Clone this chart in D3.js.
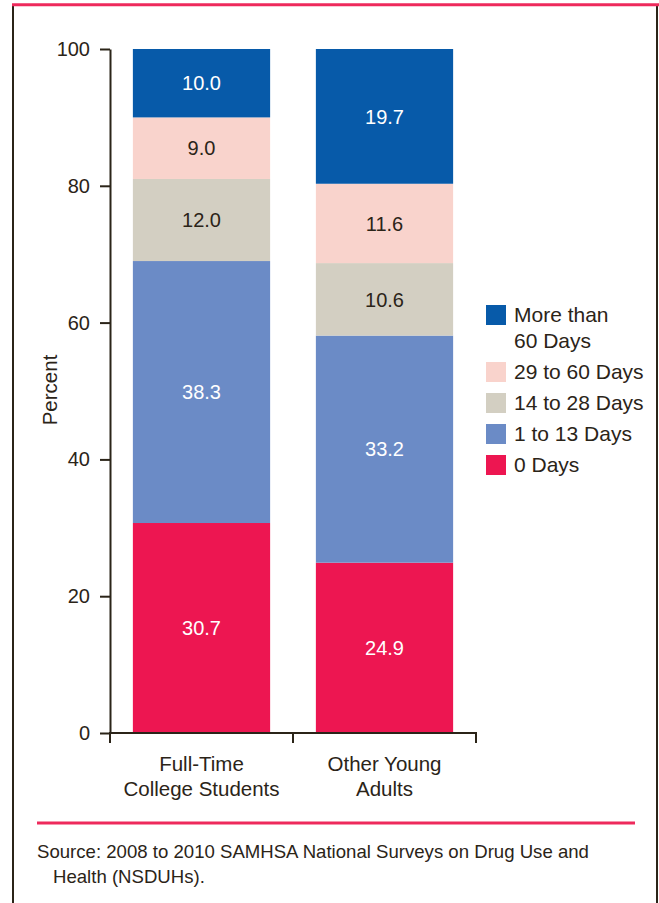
<!DOCTYPE html>
<html><head><meta charset="utf-8">
<script src="https://cdn.jsdelivr.net/npm/d3@7"></script>
<style>
html,body{margin:0;padding:0;background:#fff;}
svg{display:block;font-family:"Liberation Sans",Arial,Helvetica,sans-serif;}
</style></head>
<body>
<script>
const categories = [["Full-Time","College Students"],["Other Young","Adults"]];
const seriesNames = ["0 Days","1 to 13 Days","14 to 28 Days","29 to 60 Days","More than 60 Days"];
const seriesColors = ["#ed1651","#6b8bc6","#d3cfc2","#f9d3cc","#075aa9"];
const seriesTextColors = ["#fff","#fff","#2b2418","#2b2418","#fff"];
const collegeValues = [30.7,38.3,12.0,9.0,10.0];
const otherValues = [24.9,33.2,10.6,11.6,19.7];
const yTicks = [0,20,40,60,80,100];
const legendLabels = [["More than","60 Days"],["29 to 60 Days"],["14 to 28 Days"],["1 to 13 Days"],["0 Days"]];
const legendOrder = [4,3,2,1,0];
const sourceLines = ["Source: 2008 to 2010 SAMHSA National Surveys on Drug Use and","Health (NSDUHs)."];

const W=659,H=903, ink="#2b2418", pink="#ee2a5c";
const svg=d3.select("body").append("svg").attr("width",W).attr("height",H);

// frame
svg.append("line").attr("x1",13).attr("x2",13).attr("y1",4).attr("y2",H).attr("stroke",ink).attr("stroke-width",2);
svg.append("line").attr("x1",657).attr("x2",657).attr("y1",4).attr("y2",H).attr("stroke",ink).attr("stroke-width",2);
svg.append("line").attr("x1",12).attr("x2",659).attr("y1",4.7).attr("y2",4.7).attr("stroke",pink).attr("stroke-width",3);

const x=d3.scaleBand().domain([0,1]).range([110,476]).paddingInner(0.25).paddingOuter(0.125);
const y=d3.scaleLinear().domain([0,100]).range([733,49]);

const data=[collegeValues,otherValues];
const g=svg.append("g");
data.forEach((vals,i)=>{
  let cum=0;
  vals.forEach((v,j)=>{
    const y0=cum, y1=cum+v; cum=y1;
    g.append("rect").attr("x",x(i)).attr("width",x.bandwidth())
      .attr("y",y(y1)).attr("height",y(y0)-y(y1)).attr("fill",seriesColors[j]);
    g.append("text").attr("x",x(i)+x.bandwidth()/2).attr("y",(y(y0)+y(y1))/2)
      .attr("dy","0.36em").attr("text-anchor","middle").attr("font-size",20)
      .attr("fill",seriesTextColors[j]).text(v.toFixed(1));
  });
});

// y axis
const yAxis=d3.axisLeft(y).tickValues(yTicks).tickSize(10).tickPadding(10).tickSizeOuter(0);
const ya=svg.append("g").attr("transform","translate(110,0)").call(yAxis);
ya.select(".domain").attr("stroke",ink).attr("stroke-width",2);
ya.selectAll(".tick line").attr("stroke",ink).attr("stroke-width",2);
ya.selectAll(".tick text").attr("fill",ink).attr("font-size",20).attr("font-family","Liberation Sans, Arial, sans-serif");

// x axis
svg.append("line").attr("x1",109).attr("x2",477).attr("y1",733).attr("y2",733).attr("stroke",ink).attr("stroke-width",2);
[110,293,476].forEach(t=>svg.append("line").attr("x1",t).attr("x2",t).attr("y1",732).attr("y2",743).attr("stroke",ink).attr("stroke-width",2));
categories.forEach((lines,i)=>{
  const t=svg.append("text").attr("text-anchor","middle").attr("font-size",20.5).attr("fill",ink);
  lines.forEach((l,k)=>t.append("tspan").attr("x",x(i)+x.bandwidth()/2).attr("y",771+k*25).text(l));
});

svg.append("text").attr("transform","translate(57,390) rotate(-90)").attr("text-anchor","middle")
  .attr("font-size",20.5).attr("fill",ink).text("Percent");

// legend
let ly=322;
legendOrder.forEach((si,k)=>{
  svg.append("rect").attr("x",486).attr("y",ly-17).attr("width",20).attr("height",20).attr("fill",seriesColors[si]);
  legendLabels[k].forEach((l,m)=>{
    svg.append("text").attr("x",514).attr("y",ly+m*26).attr("font-size",21).attr("fill",ink).text(l);
  });
  ly += (legendLabels[k].length-1)*26 + 31;
});

// separator + source
svg.append("line").attr("x1",37).attr("x2",635).attr("y1",823).attr("y2",823).attr("stroke",pink).attr("stroke-width",3);
svg.append("text").attr("x",37).attr("y",858).attr("font-size",18.6).attr("fill",ink).text(sourceLines[0]);
svg.append("text").attr("x",53).attr("y",883).attr("font-size",18.6).attr("fill",ink).text(sourceLines[1]);
</script>
</body></html>
